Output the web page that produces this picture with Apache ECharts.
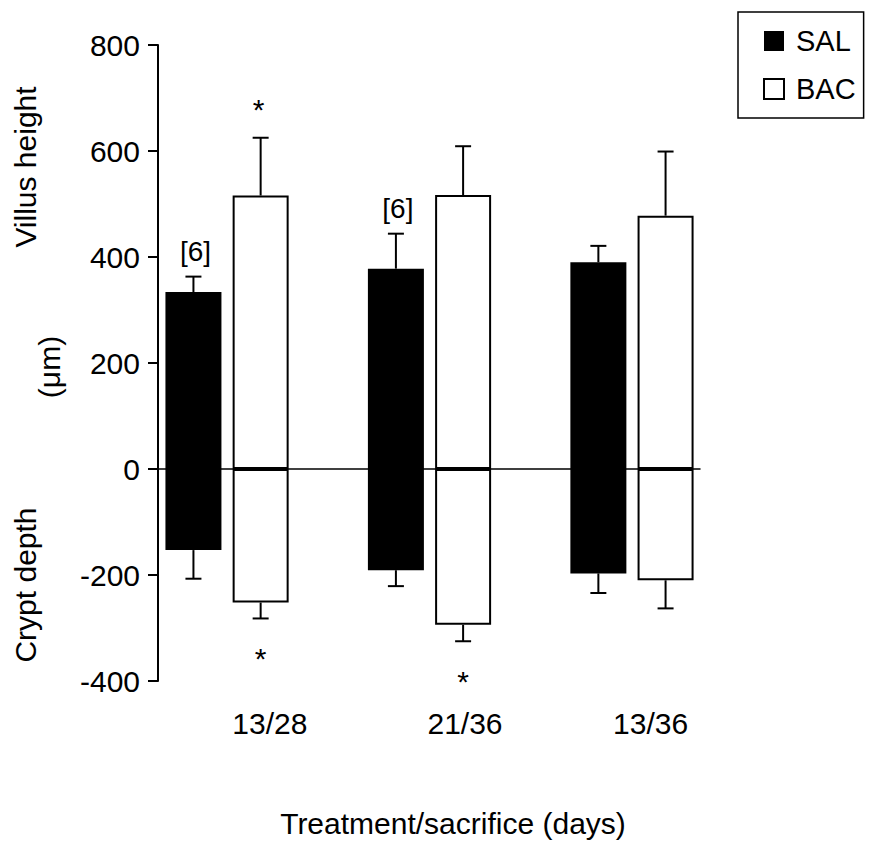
<!DOCTYPE html>
<html>
<head>
<meta charset="utf-8">
<script src="https://cdn.jsdelivr.net/npm/echarts@6/dist/echarts.min.js"></script>
<style>
html,body{margin:0;padding:0;background:#fff;}
#chart{width:870px;height:841px;}
</style>
</head>
<body>
<div id="chart"></div>
<script>
// ---- data ----
const categories = ['13/28', '21/36', '13/36'];
const salVillus   = [334, 378, 390];
const salVillusSE = [29, 66, 31];
const bacVillus   = [516, 517, 478];
const bacVillusSE = [109, 92, 121];
const salCrypt    = [-153, -191, -197];
const salCryptSE  = [54, 30, 37];
const bacCrypt    = [-252, -294, -210];
const bacCryptSE  = [30, 31, 53];
const salNLabels      = ['[6]', '[6]', ''];
const bacVillusStars  = ['*', '', ''];
const bacCryptStars   = ['*', '*', ''];
const yMin = -400, yMax = 800, yStep = 200;

// ---- style / layout ----
const FONT = 'Liberation Sans, Arial, Helvetica, sans-serif';
const BAR_W = 56;
const BAR_GAP = 0.2;
const HALF = (BAR_W * (2 + BAR_GAP)) / 2 - BAR_W / 2; // centre offset of each bar in a pair
const labelShift = [43, 72, 82];

const chart = echarts.init(document.getElementById('chart'), null, {renderer: 'svg'});

function errRender(offset) {
  return function (params, api) {
    const i = api.value(0), m = api.value(1), se = api.value(2);
    const a = api.coord([i, m]);
    const b = api.coord([i, m + se]);
    const x = a[0] + offset;
    const st = {stroke: '#000', lineWidth: 2};
    return {type: 'group', children: [
      {type: 'line', shape: {x1: x, y1: a[1], x2: x, y2: b[1]}, style: st},
      {type: 'line', shape: {x1: x - 8, y1: b[1], x2: x + 8, y2: b[1]}, style: st}
    ]};
  };
}
function annRender(offset, texts, dy, size) {
  return function (params, api) {
    const t = texts[params.dataIndex];
    if (!t) return null;
    const p = api.coord([api.value(0), api.value(1)]);
    return {type: 'text', x: p[0] + offset, y: p[1] + dy,
      style: {text: t, fontSize: size, fontFamily: FONT, fill: '#000', align: 'center', verticalAlign: 'middle'}};
  };
}
function pairs(vals) { return vals.map((v, i) => [i, v]); }
function errData(vals, se, sign) { return vals.map((v, i) => [i, v, sign * se[i]]); }

const richLabels = {};
labelShift.forEach((s, i) => {
  richLabels['l' + i] = {fontSize: 30, fontFamily: FONT, color: '#000', padding: [0, 0, 0, s]};
});

const option = {
  animation: false,
  backgroundColor: '#fff',
  grid: {left: 158, top: 45, width: 542, height: 636},
  legend: {
    data: ['SAL', 'BAC'], orient: 'vertical', left: 738, top: 12,
    padding: [14, 8, 14, 25], itemWidth: 20, itemHeight: 20, itemGap: 18, icon: 'rect',
    borderColor: '#000', borderWidth: 1.5,
    textStyle: {fontSize: 29, lineHeight: 30, color: '#000', fontFamily: FONT, padding: [0, 0, 0, 7]}
  },
  xAxis: [
    {type: 'value', min: -0.341, max: 2.336, gridIndex: 0,
      axisLine: {show: true, onZero: true, lineStyle: {color: '#000', width: 1.5}},
      axisTick: {show: false}, axisLabel: {show: false}, splitLine: {show: false}},
    {type: 'category', data: categories, position: 'bottom', gridIndex: 0,
      axisLine: {show: false, onZero: false}, axisTick: {show: false}, splitLine: {show: false},
      axisLabel: {margin: 27, formatter: (v, i) => '{l' + i + '|' + v + '}', rich: richLabels}}
  ],
  yAxis: {
    type: 'value', min: yMin, max: yMax, interval: yStep, position: 'left',
    axisLine: {show: true, onZero: false, lineStyle: {color: '#000', width: 2}},
    axisTick: {show: true, length: 10, lineStyle: {color: '#000', width: 2}},
    axisLabel: {fontSize: 30, color: '#000', fontFamily: FONT, margin: 18},
    splitLine: {show: false}
  },
  graphic: [
    {type: 'text', x: 25, y: 167, rotation: Math.PI / 2,
      style: {text: 'Villus height', fontSize: 30, fontFamily: FONT, fill: '#000', align: 'center', verticalAlign: 'middle'}},
    {type: 'text', x: 49, y: 367, rotation: Math.PI / 2,
      style: {text: '(μm)', fontSize: 30, fontFamily: FONT, fill: '#000', align: 'center', verticalAlign: 'middle'}},
    {type: 'text', x: 25, y: 585, rotation: Math.PI / 2,
      style: {text: 'Crypt depth', fontSize: 30, fontFamily: FONT, fill: '#000', align: 'center', verticalAlign: 'middle'}},
    {type: 'text', x: 453, y: 823,
      style: {text: 'Treatment/sacrifice (days)', fontSize: 30, lineHeight: 32, fontFamily: FONT, fill: '#000', align: 'center', verticalAlign: 'middle'}}
  ],
  series: [
    {name: 'SAL', type: 'bar', stack: 'SAL', xAxisIndex: 0, barWidth: BAR_W, barGap: (BAR_GAP * 100) + '%',
      itemStyle: {color: '#000'}, data: pairs(salVillus)},
    {name: 'SAL', type: 'bar', stack: 'SAL', xAxisIndex: 0, barWidth: BAR_W, barGap: (BAR_GAP * 100) + '%',
      itemStyle: {color: '#000'}, data: pairs(salCrypt)},
    {name: 'BAC', type: 'bar', stack: 'BAC', xAxisIndex: 0, barWidth: BAR_W, barGap: (BAR_GAP * 100) + '%',
      itemStyle: {color: '#fff', borderColor: '#000', borderWidth: 2}, data: pairs(bacVillus)},
    {name: 'BAC', type: 'bar', stack: 'BAC', xAxisIndex: 0, barWidth: BAR_W, barGap: (BAR_GAP * 100) + '%',
      itemStyle: {color: '#fff', borderColor: '#000', borderWidth: 2}, data: pairs(bacCrypt)},
    {type: 'custom', xAxisIndex: 0, z: 5, renderItem: errRender(-HALF), data: errData(salVillus, salVillusSE, 1)},
    {type: 'custom', xAxisIndex: 0, z: 5, renderItem: errRender(-HALF), data: errData(salCrypt, salCryptSE, -1)},
    {type: 'custom', xAxisIndex: 0, z: 5, renderItem: errRender(HALF), data: errData(bacVillus, bacVillusSE, 1)},
    {type: 'custom', xAxisIndex: 0, z: 5, renderItem: errRender(HALF), data: errData(bacCrypt, bacCryptSE, -1)},
    {type: 'custom', xAxisIndex: 0, z: 6, renderItem: annRender(-HALF + 2, salNLabels, -25, 28),
      data: salVillus.map((v, i) => [i, v + salVillusSE[i]])},
    {type: 'custom', xAxisIndex: 0, z: 6, renderItem: annRender(HALF - 2, bacVillusStars, -28, 30),
      data: bacVillus.map((v, i) => [i, v + bacVillusSE[i]])},
    {type: 'custom', xAxisIndex: 0, z: 6, renderItem: annRender(HALF, bacCryptStars, 40, 30),
      data: bacCrypt.map((v, i) => [i, v - bacCryptSE[i]])}
  ]
};
chart.setOption(option);
</script>
</body>
</html>
